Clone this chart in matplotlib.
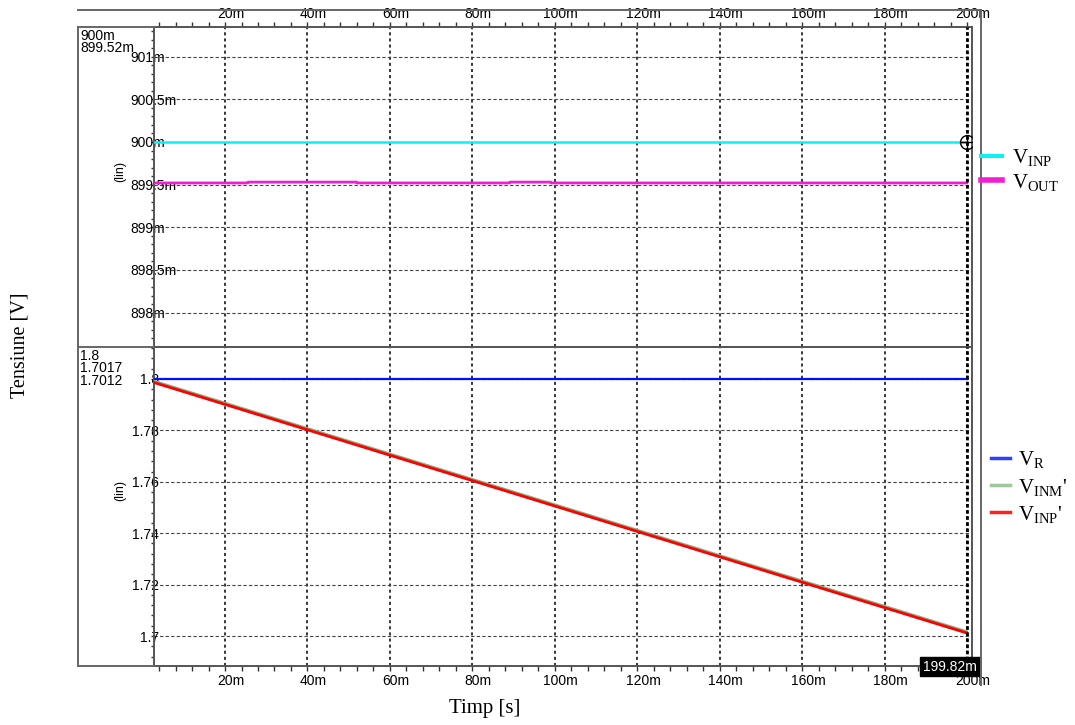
import matplotlib
matplotlib.use('Agg')
import matplotlib.pyplot as plt
import matplotlib.ticker as mticker
import matplotlib.transforms as mtransforms
from matplotlib.lines import Line2D

plt.rcParams['font.family'] = ['Liberation Sans', 'DejaVu Sans']
plt.rcParams['mathtext.fontset'] = 'custom'
plt.rcParams['mathtext.rm'] = 'Liberation Serif'
plt.rcParams['mathtext.it'] = 'Liberation Serif:italic'

# --- data (time in s, voltage in V) ---
t_inp = [0.0, 0.19982]
v_inp = [0.9, 0.9]

t_out = [0.0, 0.0255, 0.0256, 0.0519, 0.0520, 0.0890, 0.0891, 0.0990, 0.0991, 0.19982]
v_out = [0.89952, 0.89952, 0.89953, 0.89953, 0.89952, 0.89952, 0.89953, 0.89953, 0.89952, 0.89952]

t_ramp = [0.0, 0.19982]
v_r = [1.8, 1.8]
v_inm_p = [1.8005, 1.7017]
v_inp_p = [1.8000, 1.7012]

t_cursor = 0.19982
upper_readout = ['900m', '899.52m']
lower_readout = ['1.8', '1.7017', '1.7012']

x_major = [0.02, 0.04, 0.06, 0.08, 0.10, 0.12, 0.14, 0.16, 0.18, 0.20]
y_upper_major = [0.898, 0.8985, 0.899, 0.8995, 0.900, 0.9005, 0.901]
y_lower_major = [1.70, 1.72, 1.74, 1.76, 1.78, 1.80]

W, H = 1075, 725
fig = plt.figure(figsize=(W / 100, H / 100), dpi=100)


def fx(px):
    return px / W


def fy(py):
    return 1 - py / H


ax1 = fig.add_axes([fx(154), fy(347), fx(972 - 154), (347 - 27) / H])
ax2 = fig.add_axes([fx(154), fy(666), fx(972 - 154), (666 - 347) / H], sharex=ax1)

ax1.set_xlim(0.00278, 0.20114)
ax1.set_ylim(0.897597, 0.901348)
ax2.set_ylim(1.68833, 1.81245)

spine_col = '#555555'
for ax in (ax1, ax2):
    for s in ax.spines.values():
        s.set_color(spine_col)
        s.set_linewidth(1.4)
    ax.xaxis.set_major_locator(mticker.FixedLocator(x_major))
    ax.xaxis.set_minor_locator(mticker.MultipleLocator(0.004))
    ax.yaxis.set_minor_locator(mticker.AutoMinorLocator(5))
    ax.grid(True, axis='x', which='major', color='black', linestyle=(0, (2, 2)), linewidth=1.1)
    ax.grid(True, axis='y', which='major', color='#444444', linestyle=(0, (3, 2)), linewidth=0.8)
    ax.tick_params(axis='both', which='both', labelsize=10, color='#333333', width=1.0)
    ax.tick_params(axis='x', which='both', length=3.5, pad=0.5)
    ax.tick_params(axis='y', which='both', length=2.5)

xfmt = mticker.FuncFormatter(lambda v, p: f"{v * 1000:g}m")
ax1.xaxis.set_major_formatter(xfmt)
ax2.xaxis.set_major_formatter(xfmt)

# upper panel: x labels on top
ax1.xaxis.tick_top()
ax1.tick_params(axis='x', which='both', top=True, bottom=False, labeltop=True, labelbottom=False)
ax2.tick_params(axis='x', which='both', top=False, bottom=True, labelbottom=True, labeltop=False, pad=2.5)

ax1.yaxis.set_major_locator(mticker.FixedLocator(y_upper_major))
ax1.yaxis.set_major_formatter(mticker.FuncFormatter(lambda v, p: f"{v * 1000:g}m"))
ax1.tick_params(axis='y', which='major', pad=14.8)
for lab in ax1.get_yticklabels():
    lab.set_horizontalalignment('left')

ax2.yaxis.set_major_locator(mticker.FixedLocator(y_lower_major))
ax2.yaxis.set_major_formatter(mticker.FuncFormatter(lambda v, p: f"{v:g}"))
ax2.tick_params(axis='y', which='major', pad=-6.2)

# shift x tick labels a bit right (number centred on tick, "m" hanging)
offset = mtransforms.ScaledTranslation(4 / 72, 0, fig.dpi_scale_trans)
for ax in (ax1, ax2):
    for tk in ax.xaxis.get_major_ticks():
        tk.label1.set_transform(tk.label1.get_transform() + offset)
        tk.label2.set_transform(tk.label2.get_transform() + offset)

# curves
ax1.plot(t_inp, v_inp, color='#10f0f0', linewidth=1.8, zorder=3)
ax1.plot(t_out, v_out, color='#f020d0', linewidth=2.0, zorder=3)
ax2.plot(t_ramp, v_r, color='#0010ff', linewidth=1.6, zorder=3)
ax2.plot(t_ramp, v_inm_p, color='#7fb07f', linewidth=2.0, zorder=3)
ax2.plot(t_ramp, v_inp_p, color='#ff0000', linewidth=2.0, zorder=4)

# cursor
for ax in (ax1, ax2):
    ax.axvline(t_cursor, color='black', linestyle=(0, (1.3, 0.9)), linewidth=2.0, zorder=5)
ax1.plot([t_cursor], [v_inp[-1]], marker='o', markersize=10, fillstyle='none',
         markeredgecolor='black', markeredgewidth=1.0, zorder=6)
ax1.plot([t_cursor], [v_inp[-1]], marker='+', markersize=10, color='black',
         markeredgewidth=1.0, zorder=6)
ax2.annotate(f"{t_cursor * 1000:g}m", xy=(t_cursor, 0), xycoords=('data', 'axes fraction'),
             xytext=(-12, -0.5), textcoords='offset points', ha='center', va='center',
             color='white', fontsize=10, zorder=10, annotation_clip=False,
             bbox=dict(boxstyle='square,pad=0.2', facecolor='black', edgecolor='black'))

# "(lin)" labels
ax1.set_ylabel('(lin)', fontsize=9)
ax1.yaxis.set_label_coords(-0.034, 0.55)
ax2.set_ylabel('(lin)', fontsize=9)
ax2.yaxis.set_label_coords(-0.034, 0.55)

# cursor readouts in left margin
fig.text(fx(80), fy(29), '\n'.join(upper_readout), fontsize=10, va='top', ha='left', linespacing=0.85)
fig.text(fx(80), fy(349), '\n'.join(lower_readout), fontsize=10, va='top', ha='left', linespacing=0.85)

# outer frame lines
frame_col = '#666666'
for xs, ys in [((78, 981), (10, 10)), ((78, 78), (27, 666)), ((78, 154), (27, 27)),
               ((78, 154), (347, 347)), ((78, 154), (666, 666)), ((980.5, 980.5), (10, 685))]:
    fig.add_artist(Line2D([fx(xs[0]), fx(xs[1])], [fy(ys[0]), fy(ys[1])],
                          color=frame_col, linewidth=1.4))

# axis titles
fig.text(fx(20), fy(345), 'Tensiune [V]', rotation=90, ha='center', va='center',
         fontsize=14.5, family='Liberation Serif')
fig.text(fx(485), fy(709), 'Timp [s]', ha='center', va='center',
         fontsize=15, family='Liberation Serif')

# legends
h1 = [Line2D([], [], color='#10f0f0', linewidth=3), Line2D([], [], color='#f020d0', linewidth=4)]
l1 = [r'$\mathrm{V_{INP}}$', r'$\mathrm{V_{OUT}}$']
fig.legend(h1, l1, loc='center left', bbox_to_anchor=(fx(981), fy(170)), frameon=False,
           prop={'family': 'Liberation Serif', 'size': 15}, handlelength=1.0,
           handletextpad=0.5, labelspacing=0.15, borderpad=0, borderaxespad=0)

h2 = [Line2D([], [], color='#3040ff', linewidth=2.5), Line2D([], [], color='#9cc89c', linewidth=2.5),
      Line2D([], [], color='#ff2020', linewidth=2.5)]
l2 = [r'$\mathrm{V_{R}}$', r"$\mathrm{V_{INM}}$'", r"$\mathrm{V_{INP}}$'"]
fig.legend(h2, l2, loc='center left', bbox_to_anchor=(fx(991), fy(487)), frameon=False,
           prop={'family': 'Liberation Serif', 'size': 15}, handlelength=0.9,
           handletextpad=0.4, labelspacing=0.3, borderpad=0, borderaxespad=0)

fig.savefig('out.png', dpi=100)
